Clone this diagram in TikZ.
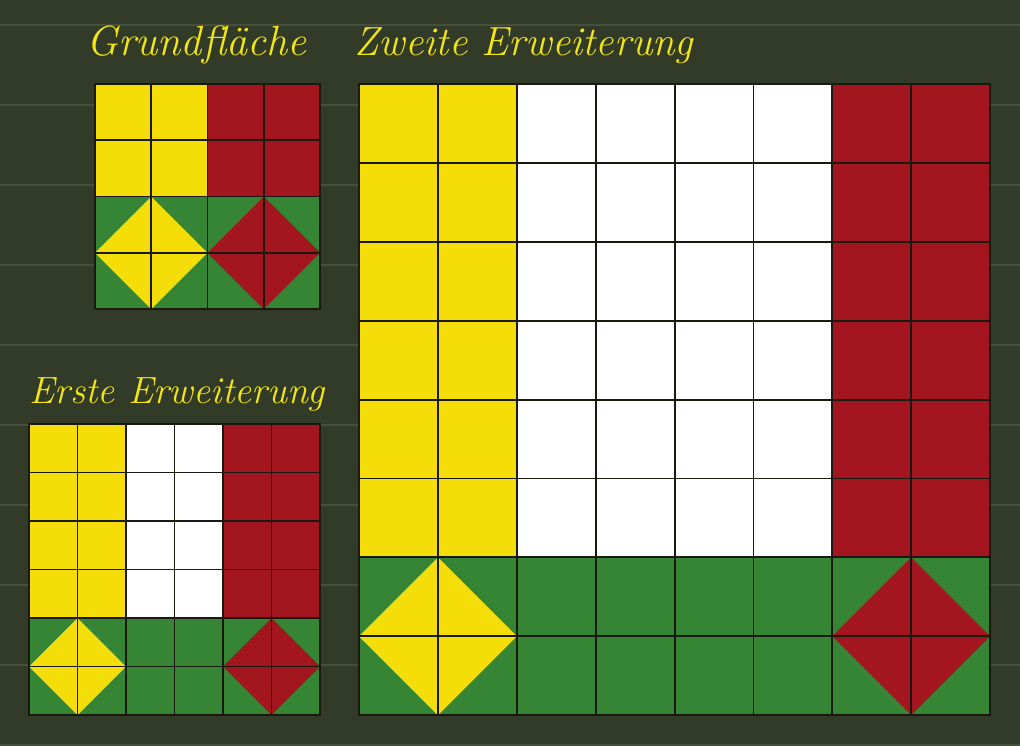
\documentclass[tikz,border=0pt]{standalone}
\usepackage{xcolor}
\usepackage{tikz}

\definecolor{tafel}{RGB}{50,58,40}
\definecolor{linie}{RGB}{70,78,60}
\definecolor{gelb}{RGB}{245,221,10}
\definecolor{rot}{RGB}{163,22,32}
\definecolor{gruen}{RGB}{54,133,52}
\definecolor{kreide}{RGB}{242,230,20}
\definecolor{rand}{RGB}{25,25,15}

\tikzset{kaestchen/.style={draw=rand, line width=1.3pt, line cap=rect},
	schrift/.style={kreide, font=\fontsize{#1}{#1}\selectfont\itshape, anchor=base west, inner sep=0pt},
	schrift/.default=30}

% x, y (px), Kaestchen (cm), n
\newcommand{\fahne}[4]{%
	\begin{scope}[shift={(#1,#2)}, x=#3, y=-#3]
		\fill[gelb] (0,0) rectangle (2,#4-2);
		\fill[white] (2,0) rectangle (#4-2,#4-2);
		\fill[rot] (#4-2,0) rectangle (#4,#4-2);
		\fill[gruen] (0,#4-2) rectangle (#4,#4);
		\fill[gelb] (1,#4-2) -- (2,#4-1) -- (1,#4) -- (0,#4-1) -- cycle;
		\fill[rot] (#4-1,#4-2) -- (#4,#4-1) -- (#4-1,#4) -- (#4-2,#4-1) -- cycle;
		\foreach \i in {0,...,#4} {
			\draw[kaestchen] (\i,0) -- (\i,#4);
			\draw[kaestchen] (0,\i) -- (#4,\i);}
	\end{scope}}

\begin{document}
\begin{tikzpicture}[x=0.025cm, y=-0.025cm]
			\useasboundingbox (0,0) rectangle (1020,745);
			\fill[tafel] (0,0) rectangle (1020,745);
			\foreach \y in {25,105,...,745}
				\draw[linie, line width=1.5pt] (0,\y) -- (1020,\y);
			\fahne{95}{84}{1.40625cm}{4}
			\fahne{29}{424}{1.2125cm}{6}
			\fahne{359}{84}{1.97187cm}{8}
			\node[schrift] (G) at (86,55) {Grundfläche};
			\node[schrift=29] (Z) at (354,55) {Zweite Erweiterung};
			\node[schrift=27] (E) at (29,403) {Erste Erweiterung};
		\end{tikzpicture}
\end{document}
